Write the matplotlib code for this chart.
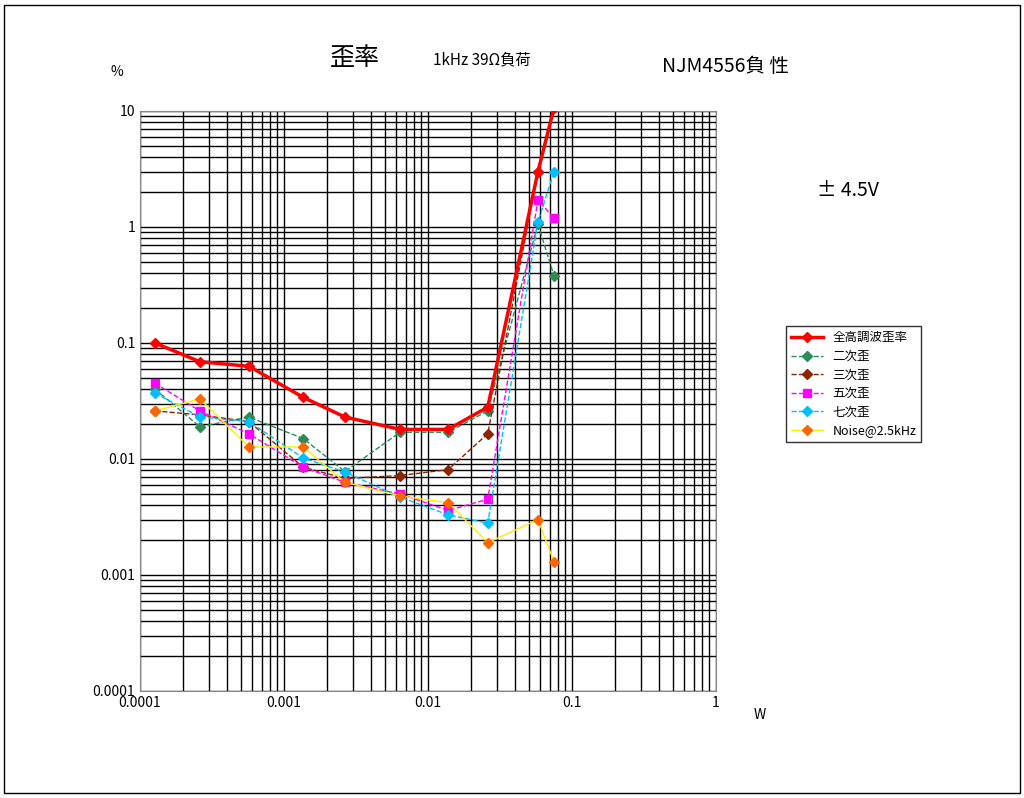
import matplotlib
matplotlib.use("Agg")
from matplotlib import pyplot as plt
from matplotlib.patches import Rectangle

plt.rcParams['font.family'] = ['Noto Sans CJK JP', 'DejaVu Sans']

# output power (W)
power = [1.27e-4, 2.6e-4, 5.7e-4, 1.36e-3, 2.65e-3, 6.4e-3, 1.38e-2, 2.6e-2, 5.8e-2, 7.5e-2]

thd   = [0.10, 0.069, 0.063, 0.034, 0.023, 0.018, 0.018, 0.028, 3.0, 10.6]
h2    = [0.040, 0.019, 0.023, 0.015, 0.0078, 0.017, 0.017, 0.026, 1.06, 0.38]
h3    = [0.026, 0.024, 0.021, 0.0085, 0.0068, 0.0072, 0.0081, 0.0165, 3.0, 11.0]
h5    = [0.045, 0.026, 0.0165, 0.0085, 0.0063, 0.0050, 0.0036, 0.0045, 1.7, 1.2]
h7    = [0.037, 0.023, 0.021, 0.0102, 0.0077, 0.0047, 0.0033, 0.0028, 1.1, 3.0]
noise = [0.026, 0.033, 0.0127, 0.0127, 0.0063, 0.0048, 0.0042, 0.0019, 0.0030, 0.0013]

labels = ['全高調波歪率', '二次歪', '三次歪', '五次歪', '七次歪', 'Noise@2.5kHz']

fig = plt.figure(figsize=(10.24, 7.98), dpi=100)
fig.patches.append(Rectangle((0.004, 0.006), 0.992, 0.988, transform=fig.transFigure,
                             fill=False, edgecolor='black', linewidth=1))
ax = fig.add_axes([140/1024, 1-691/798, 576/1024, 580/798])
ax.set_xscale('log')
ax.set_yscale('log')
ax.set_xlim(1e-4, 1)
ax.set_ylim(1e-4, 10)

ax.grid(True, which='both', color='black', linewidth=1.0)
for s in ax.spines.values():
    s.set_color('#888888')
ax.tick_params(which='both', length=0, labelsize=10)
ax.set_xticks([1e-4, 1e-3, 1e-2, 1e-1, 1])
ax.set_xticklabels(['0.0001', '0.001', '0.01', '0.1', '1'])
ax.set_yticks([1e-4, 1e-3, 1e-2, 1e-1, 1, 10])
ax.set_yticklabels(['0.0001', '0.001', '0.01', '0.1', '1', '10'])

ax.plot(power, thd, color='#ff0000', lw=2.5, marker='D', ms=5, label=labels[0], zorder=10)
ax.plot(power, h2, color='#2e8b57', lw=1, ls='--', marker='D', ms=5, label=labels[1])
ax.plot(power, h3, color='#8b2500', lw=1, ls='--', marker='D', ms=5, label=labels[2])
ax.plot(power, h5, color='#ff00ff', lw=1, ls='--', marker='s', ms=6, label=labels[3])
ax.plot(power, h7, color='#00bfff', lw=1, ls='--', marker='D', ms=5, label=labels[4])
ax.plot(power, noise, color='#ffee00', lw=1, marker='D', ms=5, mfc='#ff6600', mec='#ff6600',
        label=labels[5])

leg = ax.legend(loc='upper left', bbox_to_anchor=(780/1024, 1-320/798), bbox_transform=fig.transFigure,
                fontsize=9, frameon=True, fancybox=False, edgecolor='black', borderpad=0.4,
                labelspacing=0.45, handlelength=2.5)
leg.get_frame().set_linewidth(1)

fig.text(355/1024, 1-58/798, '歪率', fontsize=18, ha='center', va='center')
fig.text(482/1024, 1-60/798, '1kHz 39Ω負荷', fontsize=11, ha='center', va='center')
fig.text(725/1024, 1-66/798, 'NJM4556負 性', fontsize=14, ha='center', va='center')
fig.text(117/1024, 1-72/798, '%', fontsize=10, ha='center', va='center')
fig.text(848/1024, 1-190/798, '± 4.5V', fontsize=14, ha='center', va='center')
fig.text(760/1024, 1-715/798, 'W', fontsize=10, ha='center', va='center')

fig.savefig('out.png', dpi=100, facecolor='white')
